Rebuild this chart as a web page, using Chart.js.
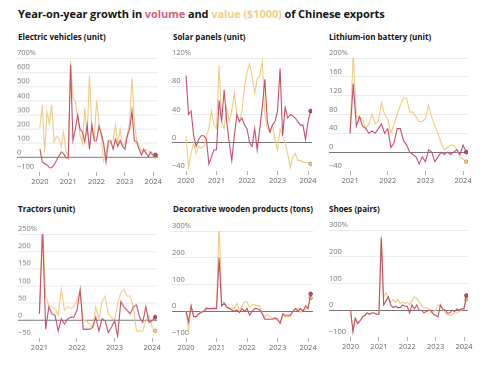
<!DOCTYPE html>
<html>
<head>
<meta charset="utf-8">
<script src="https://cdn.jsdelivr.net/npm/chart.js@4.4.1/dist/chart.umd.min.js"></script>
<style>
  body { margin: 0; background: #fff; width: 500px; height: 371px; overflow: hidden; position: relative; font-family: 'Open Sans', sans-serif; }
  .head { position: absolute; left: 18px; top: 6px; font-weight: 700; font-size: 11px; color: #151515; white-space: nowrap; letter-spacing: -0.1px; }
  .head .vol { color: #d2627c; }
  .head .val { color: #efd08c; }
  .ttl { position: absolute; font-weight: 700; font-size: 8px; color: #151515; white-space: nowrap; }
  canvas { position: absolute; }
</style>
</head>
<body>
<div class="head">Year-on-year growth in <span class="vol">volume</span> and <span class="val">value ($1000)</span> of Chinese exports</div>

<div class="ttl" style="left:18px;top:31px">Electric vehicles (unit)</div>
<div class="ttl" style="left:173px;top:31px">Solar panels (unit)</div>
<div class="ttl" style="left:329px;top:31px">Lithium-ion battery (unit)</div>
<div class="ttl" style="left:18px;top:203px">Tractors (unit)</div>
<div class="ttl" style="left:173px;top:203px">Decorative wooden products (tons)</div>
<div class="ttl" style="left:329px;top:203px">Shoes (pairs)</div>

<canvas id="ev"></canvas>
<canvas id="solar"></canvas>
<canvas id="liion"></canvas>
<canvas id="tractor"></canvas>
<canvas id="wood"></canvas>
<canvas id="shoe"></canvas>

<script>
// monthly y/y growth, % -- series from Jan 2020 or Jan 2021 through Feb 2024
const years2020 = [2020, 2021, 2022, 2023, 2024];
const years2021 = [2021, 2022, 2023, 2024];

const evVolume = [60, -30, -40, -50, -70, -70, -50, -20, 10, 40, 30, 0,
  0, 650, 120, 200, 300, 200, 180, 110, 230, 60, 230, 120,
  120, 220, 170, 100, -30, 120, 120, 60, 130, 80, 120, 80,
  60, 150, 200, 330, 120, 110, 60, 20, 60, 30, 10, 40,
  20, 20];
const evValue = [210, 370, 40, 320, 240, 370, 110, 150, 140, 80, 180, 50,
  0, 680, 420, 400, 280, 160, 100, 350, 150, 580, 200, 130,
  400, 250, 150, -20, 40, 80, 110, 120, 230, 100, 200, 80,
  100, 160, 250, 560, 250, 120, 80, 50, 40, 60, 50, 30,
  10, 10];

const solarVolume = [95, 40, 45, 10, -5, 5, 10, 10, 5, -30, -20, -10,
  -10, 60, 30, 75, 30, 0, -25, 10, 40, 30, 35, 25,
  20, 0, -5, 20, -10, 20, 50, 90, 30, 15, 25, 30,
  45, 105, 10, 50, 35, 40, 38, 35, 30, 25, 25, 5,
  30, 45];
const solarValue = [10, -35, -15, 0, -15, -5, -8, -5, 10, 20, 45, 25,
  20, 110, 30, 20, 50, 30, 45, 70, 40, 30, 45, 80,
  100, 112, 95, 70, 90, 95, 115, 40, 20, 15, 25, 5,
  -10, 20, 10, 0, -15, -35, -20, -15, -25, -25, -28, -28,
  -28, -30];

const liionVolume = [40, 145, 55, 75, 55, 50, 40, 45, 40, 50, 60, 40,
  50, 10, 20, 50, 50, 25, 15, 0, -5, -10, -25, -10,
  -20, 5, 0, -20, -10, 0, -5, 0, -5, 0, 5, -5,
  15, 0];
const liionValue = [40, 210, 75, 75, 70, 50, 60, 80, 60, 65, 105, 80,
  70, 40, 60, 80, 100, 115, 115, 85, 85, 75, 65, 65,
  70, 100, 75, 55, 40, 20, 5, 10, 15, 15, 5, -10,
  -15, -20];

const tractorVolume = [20, 260, -25, 40, 20, 15, -30, 5, -10, 5, 10, 10,
  30, 90, -25, -25, -25, -20, 10, -30, 5, 0, -35, -20,
  0, -45, 55, 40, 30, 20, 40, 45, 10, -5, 40, -5,
  0, 10];
const tractorValue = [20, 285, 70, 45, 40, 35, 15, 90, 30, 40, 35, 40,
  60, 85, 0, 0, -10, -20, 40, 5, 55, 70, 20, 10,
  0, 50, 80, 90, 70, 70, 40, -30, -30, -30, 0, 15,
  -20, -30];

const woodVolume = [0, -40, 20, -20, -20, -10, -5, 0, 10, 10, 10, 10,
  10, 200, 20, 30, 15, 10, 5, 0, 5, -5, 10, 0,
  10, -15, 0, 10, 10, 5, -10, -30, -30, -30, -30, -25,
  -30, -45, -10, -15, -15, -15, 0, 10, 0, 10, 0, 20,
  10, 65];
const woodValue = [0, -70, 20, -20, -20, -10, 0, 0, 15, 10, 10, 15,
  15, 330, 40, 30, 20, 15, 10, 10, 30, 0, 20, 35,
  35, 15, 25, 25, 20, 20, -10, -20, -10, -20, -25, -30,
  -35, -40, -15, -20, -20, -20, 0, 10, 10, -5, 5, 5,
  20, 50];

const shoeVolume = [0, -80, -30, -50, -40, -25, -20, -10, -15, -10, -10, -15,
  -15, 270, 20, 35, 50, 20, 10, 15, 10, 10, 20, 15,
  15, -10, 20, 5, 20, 0, 0, -10, -5, 0, 0, -15,
  -20, -25, 20, 5, 0, -10, -10, 0, -5, 5, 0, 5,
  5, 55];
const shoeValue = [0, -75, -30, -45, -40, -25, -20, -10, -15, -10, -10, -15,
  -15, 280, 50, 65, 40, 30, 40, 30, 40, 25, 30, 25,
  30, 20, 35, 50, 45, 30, 20, 10, 10, 5, -10, -5,
  0, 20, 15, 5, -10, -15, -20, -15, -10, -10, -5, 0,
  10, 40];

const evTicks = [-100, 0, 100, 200, 300, 400, 500, 600, 700];
const solarTicks = [-40, 0, 40, 80, 120];
const liionTicks = [-40, 0, 40, 80, 120, 160, 200];
const tractorTicks = [-50, 0, 50, 100, 150, 200, 250];
const woodTicks = [-100, 0, 100, 200, 300];
const shoeTicks = [-100, 0, 100, 200, 300];

const RED = '#c4506b';
const YELLOW = '#edcd85';
const PAD = 12, TOPPAD = 10;

function monthly(start, arr) {
  return arr.map((v, i) => ({ x: start + i / 12, y: v }));
}

function line(label, data, color, dot) {
  return {
    label, data,
    borderColor: color,
    backgroundColor: color,
    borderWidth: 1.1,
    tension: 0,
    pointRadius: c => c.dataIndex === data.length - 1 ? 1.8 : 0,
    pointBorderColor: dot,
    pointBorderWidth: 0.8,
    pointHoverRadius: 0
  };
}

// box: plot-area rectangle on the page; x range set so the year ticks land where the reference has them
function panel(id, box, start, volume, value, years, yTicks, xmin, xmax) {
  const el = document.getElementById(id);
  const w = box.right - box.left + PAD * 2;
  const h = box.bottom - box.top + TOPPAD + 15;
  el.width = w; el.height = h;
  el.style.left = (box.left - PAD) + 'px';
  el.style.top = (box.top - TOPPAD) + 'px';
  el.style.width = w + 'px'; el.style.height = h + 'px';
  const ymin = yTicks[0], ymax = yTicks[yTicks.length - 1];

  new Chart(el, {
    type: 'line',
    data: {
      datasets: [
        line('volume', monthly(start, volume), RED, '#7d2a3e'),
        line('value ($1000)', monthly(start, value), YELLOW, '#b8984a')
      ]
    },
    options: {
      responsive: false,
      animation: false,
      events: [],
      layout: { padding: { left: PAD, right: PAD, top: TOPPAD, bottom: 0 } },
      plugins: { legend: { display: false }, tooltip: { enabled: false } },
      scales: {
        x: {
          type: 'linear',
          min: xmin, max: xmax,
          afterBuildTicks: s => { s.ticks = years.map(v => ({ value: v })); },
          grid: { drawOnChartArea: false, drawTicks: true, tickLength: 4, color: '#999', lineWidth: 0.8 },
          border: { display: false },
          ticks: {
            padding: 1, color: '#666', maxRotation: 0, autoSkip: false,
            font: { family: 'Open Sans', size: 7.5 },
            callback: v => String(v)
          }
        },
        y: {
          min: ymin, max: ymax,
          afterBuildTicks: s => { s.ticks = yTicks.map(v => ({ value: v })); },
          grid: {
            drawTicks: false,
            lineWidth: 0.8,
            color: c => c.tick.value === 0 ? '#555' : (c.tick.value === ymin ? 'rgba(0,0,0,0)' : '#e4e4e4')
          },
          border: { display: false },
          ticks: {
            mirror: true, padding: 0, labelOffset: -5, color: '#777',
            font: { family: 'Open Sans', size: 7.5 },
            callback: v => (v < 0 ? '\u2212' + Math.abs(v) : String(v)) + (v === ymax ? '%' : '')
          }
        }
      }
    }
  });
}

panel('ev', { left: 17, right: 158, top: 58, bottom: 171.5 }, 2020, evVolume, evValue, years2020, evTicks, 2019.19, 2024.17);
panel('solar', { left: 172, right: 312, top: 58, bottom: 171 }, 2020, solarVolume, solarValue, years2020, solarTicks, 2019.54, 2024.13);
panel('liion', { left: 329, right: 468, top: 58, bottom: 171 }, 2021, liionVolume, liionValue, years2021, liionTicks, 2020.44, 2024.13);
panel('tractor', { left: 18, right: 157, top: 234, bottom: 337.5 }, 2021, tractorVolume, tractorValue, years2021, tractorTicks, 2020.43, 2024.13);
panel('wood', { left: 172, right: 313, top: 230.5, bottom: 337.5 }, 2020, woodVolume, woodValue, years2020, woodTicks, 2019.54, 2024.16);
panel('shoe', { left: 329, right: 468, top: 229.5, bottom: 337 }, 2020, shoeVolume, shoeValue, years2020, shoeTicks, 2019.24, 2024.14);
</script>
</body>
</html>
